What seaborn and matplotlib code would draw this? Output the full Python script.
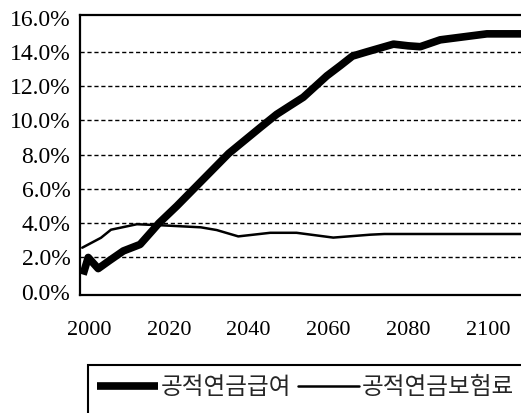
import numpy as np
import pandas as pd
import matplotlib
matplotlib.use("Agg")
import matplotlib.pyplot as plt
from matplotlib.patches import Rectangle
import seaborn as sns

# ---- data ----
benefit_label = "공적연금급여"
premium_label = "공적연금보험료"

benefit_years = [1998.5, 1999.8, 2002.3, 2005, 2008.6, 2012.8, 2016, 2017.5, 2022,
                 2035, 2043, 2047, 2050, 2053.7, 2059.6, 2063, 2066, 2069.6,
                 2076.3, 2080, 2083, 2088, 2093, 2099.7, 2110]
benefit_vals = [1.0, 2.0, 1.35, 1.8, 2.38, 2.76, 3.6, 4.0, 5.0,
                8.07, 9.6, 10.35, 10.8, 11.35, 12.6, 13.2, 13.75, 14.0,
                14.45, 14.35, 14.3, 14.7, 14.85, 15.05, 15.05]

premium_years = [1998.3, 2003, 2005.5, 2012, 2018, 2028, 2032, 2037.4, 2045.4,
                 2052, 2061.2, 2070.5, 2074, 2110]
premium_vals = [2.57, 3.15, 3.62, 3.94, 3.88, 3.76, 3.6, 3.23, 3.44,
                3.44, 3.16, 3.33, 3.37, 3.37]

x_labels = [2000, 2020, 2040, 2060, 2080, 2100]
y_ticks = [0, 2, 4, 6, 8, 10, 12, 14, 16]

df_b = pd.DataFrame({"year": benefit_years, "value": benefit_vals})
df_p = pd.DataFrame({"year": premium_years, "value": premium_vals})

# ---- style ----
sns.set_style("white")
plt.rcParams["font.family"] = ["Liberation Serif", "DejaVu Serif"]

W, H = 521, 413
fig = plt.figure(figsize=(W / 100, H / 100), dpi=100)
ax = fig.add_axes([80 / W, (H - 295) / H, (530 - 80) / W, 280 / H])

sns.lineplot(data=df_b, x="year", y="value", ax=ax, color="black",
             linewidth=5.5, label=benefit_label, sort=False,
             solid_joinstyle="round", solid_capstyle="butt")
sns.lineplot(data=df_p, x="year", y="value", ax=ax, color="black",
             linewidth=1.8, label=premium_label, sort=False)

ax.set_xlim(1997.74, 2110.5)
ax.set_ylim(-0.19, 16.15)

# grid lines
for v in y_ticks[1:-1]:
    ax.axhline(v, color="black", linewidth=1.0, linestyle=(0, (3, 2)), zorder=0)

ax.set_yticks(y_ticks)
ax.set_yticklabels([f"{v:.1f}%" for v in y_ticks])
ax.set_xticks(x_labels)
ax.set_xticklabels([str(v) for v in x_labels])
ax.set_xticks(np.arange(2000.7, 2110, 3.772), minor=True)
ax.tick_params(axis="x", which="major", length=0, pad=19, labelsize=16)
ax.tick_params(axis="x", which="minor", length=8, width=1.3, direction="in",
               color="black")
ax.tick_params(axis="y", which="major", length=0, pad=7, labelsize=17)
for lab in ax.get_xticklabels() + ax.get_yticklabels():
    lab.set_color("black")

ax.set_xlabel("")
ax.set_ylabel("")
for side in ["left", "bottom", "top"]:
    ax.spines[side].set_visible(True)
    ax.spines[side].set_color("black")
    ax.spines[side].set_linewidth(1.6)
ax.spines["right"].set_visible(False)

handles, labels = ax.get_legend_handles_labels()
ax.get_legend().remove()

# legend box
fig.patches.append(Rectangle((88 / W, -0.05), (540 - 88) / W, 0.05 + (H - 365) / H,
                             transform=fig.transFigure, fill=False,
                             edgecolor="black", linewidth=1.5))
fig.legend(handles, labels, loc="center left",
           bbox_to_anchor=(97 / W, 1 - 388 / H), ncol=2, frameon=False,
           prop={"family": ["Noto Sans CJK KR", "DejaVu Sans"], "size": 17.0},
           handlelength=2.6, handletextpad=0.12, columnspacing=0.25,
           borderpad=0, borderaxespad=0)

fig.savefig("out.png", dpi=100)
